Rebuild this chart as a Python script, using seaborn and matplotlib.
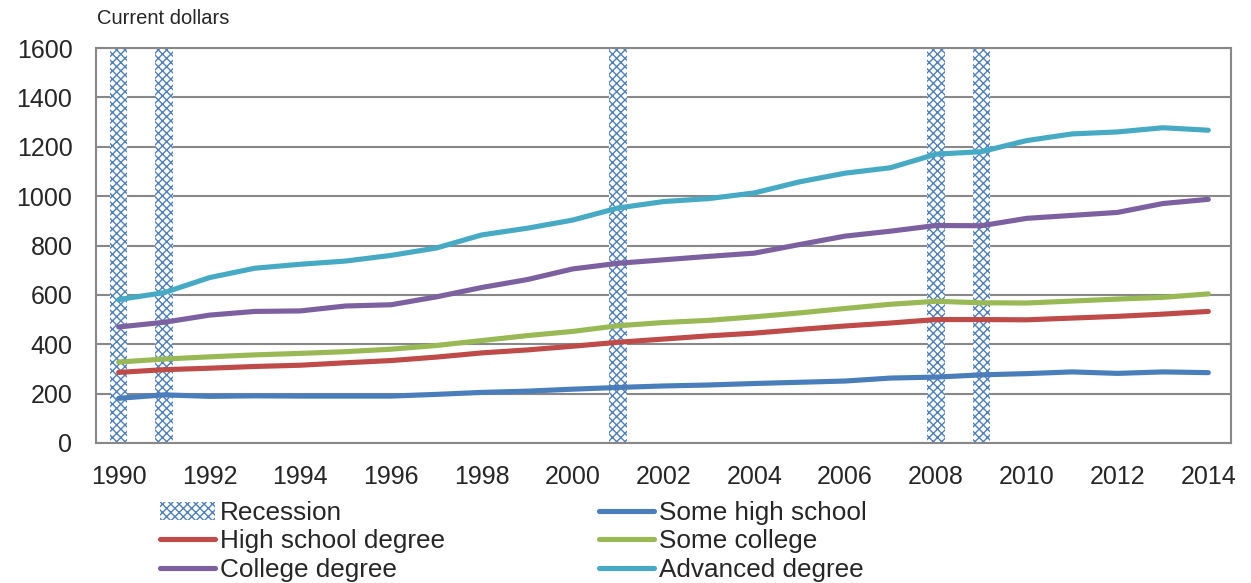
import pandas as pd
import seaborn as sns
import matplotlib.pyplot as plt
from matplotlib.patches import Patch
from matplotlib.lines import Line2D

# Weekly earnings by education, current dollars
years = list(range(1990, 2015))
some_high_school = [181, 195, 189, 191, 190, 190, 190, 197, 205, 210, 218, 225, 231,
                    235, 241, 246, 251, 263, 267, 276, 281, 288, 282, 288, 285]
high_school_degree = [286, 297, 303, 310, 315, 325, 334, 348, 365, 377, 392, 408, 421,
                      434, 445, 460, 474, 486, 500, 500, 499, 506, 513, 522, 533]
some_college = [328, 340, 349, 357, 363, 370, 380, 395, 415, 435, 452, 475, 488,
                497, 511, 527, 545, 562, 574, 568, 567, 575, 583, 590, 604]
college_degree = [470, 489, 518, 533, 535, 555, 560, 592, 630, 662, 705, 728, 742,
                  756, 769, 804, 838, 858, 881, 880, 910, 922, 934, 970, 987]
advanced_degree = [581, 609, 670, 708, 724, 737, 760, 790, 843, 870, 903, 952, 978,
                   990, 1013, 1058, 1093, 1115, 1170, 1180, 1225, 1252, 1260, 1277, 1267]

recession_years = [1990, 1991, 2001, 2008, 2009]

series_names = ['Some high school', 'High school degree', 'Some college',
                'College degree', 'Advanced degree']
colors = ['#4A7EBB', '#BE4B48', '#98B954', '#7D60A0', '#46AAC5']
rec_color = '#4F81BD'

df = pd.DataFrame({
    'year': years,
    'Some high school': some_high_school,
    'High school degree': high_school_degree,
    'Some college': some_college,
    'College degree': college_degree,
    'Advanced degree': advanced_degree,
}).melt(id_vars='year', var_name='series', value_name='value')

sns.set_style('white')
plt.rcParams['font.family'] = ['Liberation Sans', 'DejaVu Sans']
plt.rcParams['hatch.linewidth'] = 1.0
plt.rcParams['hatch.color'] = rec_color

fig = plt.figure(figsize=(12.51, 5.83), dpi=100)
ax = fig.add_axes([96 / 1251, 1 - 443 / 583, (1231 - 96) / 1251, (443 - 48) / 583])

# recession bars
ax.bar(recession_years, [1600] * len(recession_years), width=0.38, color='white',
       edgecolor=rec_color, hatch='xxxx', linewidth=0, zorder=1)

sns.lineplot(data=df, x='year', y='value', hue='series', hue_order=series_names,
             palette=dict(zip(series_names, colors)), linewidth=3.7, ax=ax,
             legend=False, zorder=3, solid_capstyle='round')

ax.set_xlim(1989.5, 2014.5)
ax.set_ylim(0, 1600)
ax.set_xticks(range(1990, 2015, 2))
ax.set_yticks(range(0, 1601, 200))
ax.set_xlabel('')
ax.set_ylabel('')
ax.yaxis.grid(True, color='#888888', linewidth=1.5, zorder=0)
ax.set_axisbelow(True)
for s in ax.spines.values():
    s.set_color('#888888')
    s.set_linewidth(1.5)
ax.tick_params(axis='x', length=0, pad=16, labelsize=18)
ax.tick_params(axis='y', length=0, pad=17, labelsize=18)

fig.text(97 / 1251, 1 - 18 / 583, 'Current dollars', fontsize=14.5, va='center', ha='left')

# legend, row-major order like the original
rec_handle = Patch(facecolor='white', edgecolor=rec_color, hatch='xxxx', linewidth=0)
line_h = {n: Line2D([], [], color=c, linewidth=3.7, solid_capstyle='round')
          for n, c in zip(series_names, colors)}
handles = [rec_handle, line_h['High school degree'], line_h['College degree'],
           line_h['Some high school'], line_h['Some college'], line_h['Advanced degree']]
labels = ['Recession', 'High school degree', 'College degree',
          'Some high school', 'Some college', 'Advanced degree']
fig.legend(handles, labels, loc='upper left', bbox_to_anchor=(160 / 1251, 1 - 501 / 583),
           ncol=2, frameon=False, fontsize=18.8, handlelength=2.1, handletextpad=0.2,
           columnspacing=5.9, labelspacing=0.17, borderpad=0, borderaxespad=0)

fig.savefig('out.png', dpi=100)
